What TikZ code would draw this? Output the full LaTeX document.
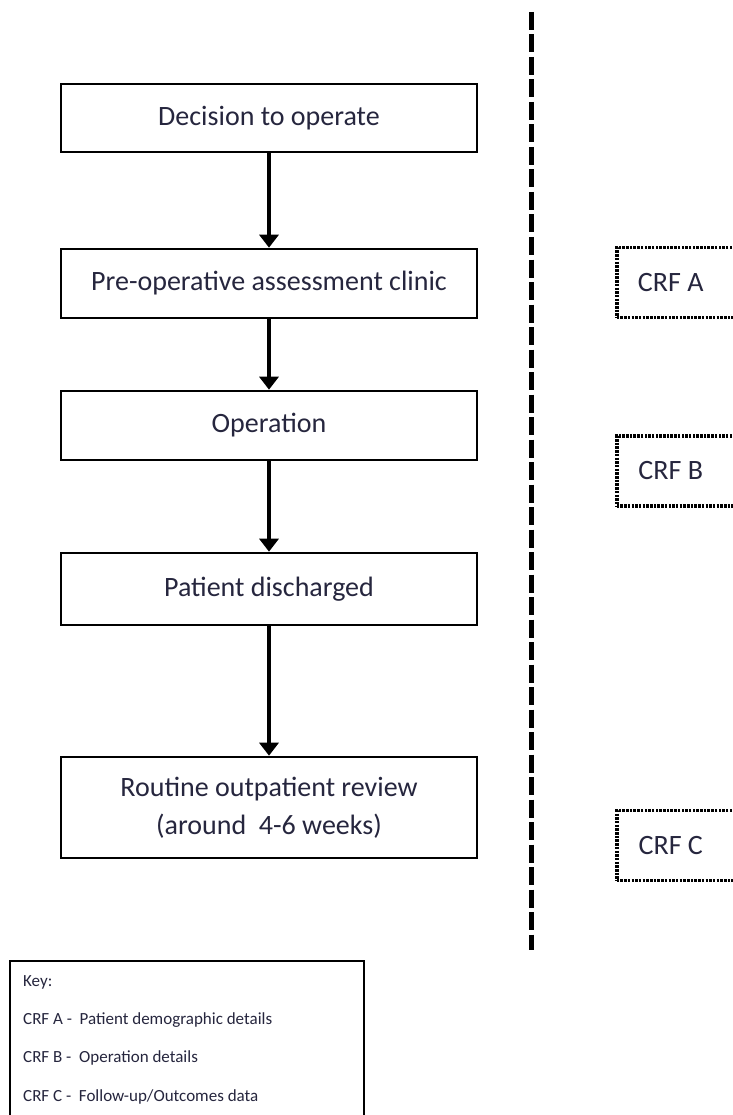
\documentclass[tikz,border=0pt]{standalone}
\usepackage{fontspec}
\setmainfont{Carlito}
\usetikzlibrary{arrows.meta}
\definecolor{txt}{RGB}{38,38,62}
\begin{document}
\begin{tikzpicture}[x=1pt,y=-1pt,
  stepbox/.style={draw=black,line width=2.6pt,minimum width=416pt,inner sep=0pt,align=center,text=txt,font=\fontsize{28}{38}\selectfont},
  crfbox/.style={draw=black,line width=3.5pt,dash pattern=on 2.5pt off 1.2pt,minimum width=130pt,minimum height=70pt,inner sep=0pt,text=txt,font=\fontsize{28}{34}\selectfont},
  flow/.style={line width=4.5pt,-{Triangle[width=19pt,length=13pt]}},
  keytext/.style={anchor=west,text=txt,font=\fontsize{17}{20}\selectfont,inner sep=0pt}]
\useasboundingbox (0,0) rectangle (732,1115);
\fill[white] (0,0) rectangle (732,1115);
% flow boxes
\node[stepbox,minimum height=68pt] (dec) at (269,118) {Decision to operate};
\node[stepbox,minimum height=69pt] (pre) at (269,283.5) {Pre-operative assessment clinic};
\node[stepbox,minimum height=69pt] (op) at (269,425.5) {Operation};
\node[stepbox,minimum height=72pt] (dis) at (269,589) {Patient discharged};
\node[stepbox,minimum height=101pt] (rev) at (269,807.5) {Routine outpatient review\\(around\ \ 4-6 weeks)};
\draw[flow] (dec.south) -- (pre.north);
\draw[flow] (pre.south) -- (op.north);
\draw[flow] (op.south) -- (dis.north);
\draw[flow] (dis.south) -- (rev.north);
% divider
\coordinate (dtop) at (531,12);
\coordinate (dbot) at (531,950);
\draw[line width=5pt,dash pattern=on 18pt off 4.5pt] (dtop) -- (dbot);
% CRF boxes
\node[crfbox,anchor=west] (crfa) at (615,282.5) {\hspace*{-22pt}CRF A};
\node[crfbox,anchor=west] (crfb) at (615,471) {\hspace*{-22pt}CRF B};
\node[crfbox,anchor=west] (crfc) at (615,845.5) {\hspace*{-22pt}CRF C};
% key
\node[draw=black,line width=2pt,minimum width=354pt,minimum height=180pt,anchor=north west,inner sep=0pt] (key) at (9,960) {};
\node[keytext] (k0) at (23,982) {Key:};
\node[keytext] (k1) at (23,1020) {CRF A -\ \ Patient demographic details};
\node[keytext] (k2) at (23,1058) {CRF B -\ \ Operation details};
\node[keytext] (k3) at (23,1097) {CRF C -\ \ Follow-up/Outcomes data};
\end{tikzpicture}
\end{document}
